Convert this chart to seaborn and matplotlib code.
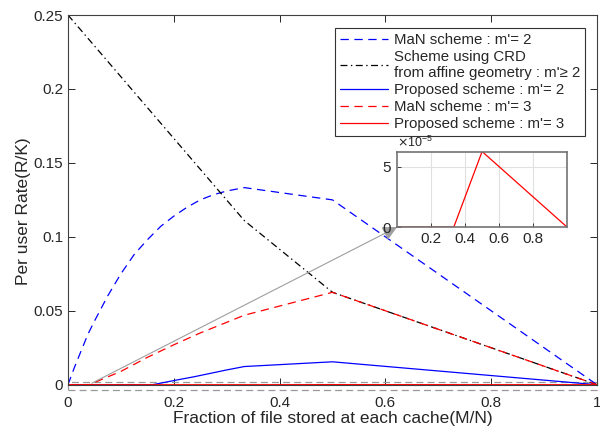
import numpy as np
import pandas as pd
import matplotlib
matplotlib.use("Agg")
import matplotlib.pyplot as plt
import seaborn as sns
from matplotlib.patches import Rectangle
from matplotlib.ticker import ScalarFormatter

# values
x_man2 = [0, 0.0125, 0.025, 0.0375, 0.05, 0.075, 0.1, 0.125, 0.15, 0.175, 0.2,
          0.225, 0.25, 0.275, 0.3, 1/3, 0.5, 1]
y_man2 = [0, 0.012, 0.023, 0.034, 0.043, 0.060, 0.075, 0.088, 0.098, 0.107, 0.114,
          0.120, 0.125, 0.1285, 0.131, 0.1333, 0.125, 0]

x_crd = [0, 1/3, 0.5, 1]
y_crd = [0.25, 0.111, 0.0625, 0]

x_prop2 = [0, 0.16, 0.2, 0.24, 0.3, 1/3, 0.5, 1]
y_prop2 = [0, 0, 0.0028, 0.0055, 0.0100, 0.0123, 0.0155, 0]

x_man3 = [0, 0.04, 0.1, 0.15, 0.2, 0.25, 1/3, 0.5, 1]
y_man3 = [0, 0, 0.009, 0.0185, 0.027, 0.035, 0.047, 0.0625, 0]

x_prop3 = [0, 1/3, 0.5, 1]
y_prop3 = [0, 0, 6.25e-5, 0]

sns.set_style("ticks")
plt.rcParams['font.family'] = ['Liberation Sans', 'DejaVu Sans']
plt.rcParams['lines.scale_dashes'] = False
plt.rcParams['axes.edgecolor'] = '0.25'
plt.rcParams['xtick.color'] = '0.15'
plt.rcParams['ytick.color'] = '0.15'

fig = plt.figure(figsize=(6, 4.3), dpi=100)
ax = fig.add_axes([0.1133, 0.1053, 0.8817, 0.8597])

def draw(x, y, color, label, dashes=None, axis=ax):
    sns.lineplot(x=x, y=y, ax=axis, color=color, label=label, lw=0.9)
    ln = axis.lines[-1]
    if dashes is not None:
        ln.set_dashes(dashes)
    return ln

draw(x_man2, y_man2, 'blue', "MaN scheme : m'= 2", (6, 4))
draw(x_crd, y_crd, 'black', "Scheme using CRD\nfrom affine geometry : m'\u2265 2", (5, 2.5, 1, 2.5))
draw(x_prop2, y_prop2, 'blue', "Proposed scheme : m'= 2")
draw(x_man3, y_man3, 'red', "MaN scheme : m'= 3", (6, 4))
draw(x_prop3, y_prop3, 'red', "Proposed scheme : m'= 3")

ax.set_xlim(0, 1)
ax.set_ylim(0, 0.25)
ax.set_xticks([0, 0.2, 0.4, 0.6, 0.8, 1])
ax.set_xticklabels(['0', '0.2', '0.4', '0.6', '0.8', '1'])
ax.set_yticks([0, 0.05, 0.1, 0.15, 0.2, 0.25])
ax.set_yticklabels(['0', '0.05', '0.1', '0.15', '0.2', '0.25'])
ax.tick_params(direction='in', top=True, right=True, labelsize=11, length=5, width=0.7)
ax.tick_params(axis='x', pad=8)
ax.set_xlabel('Fraction of file stored at each cache(M/N)', fontsize=12.5, labelpad=1)
ax.set_ylabel('Per user Rate(R/K)', fontsize=12.5)
ax.yaxis.set_label_coords(-0.07, 0.47)

leg = ax.legend(loc='upper right', bbox_to_anchor=(0.977, 0.964), fontsize=10.8,
                frameon=True, fancybox=False, framealpha=1, edgecolor='0.2',
                handlelength=3.2, handletextpad=0.4, borderpad=0.3, labelspacing=0.2,
                borderaxespad=0)
leg.get_frame().set_linewidth(0.8)

# zoom box around y=0
ax.add_patch(Rectangle((0, -0.0037), 1, 0.0056, fill=False, ec='0.6', ls=(0, (5, 3)),
                       lw=0.9, clip_on=False, zorder=1))

# inset
axins = fig.add_axes([0.662, 0.472, 0.283, 0.1756])
draw(x_prop3, y_prop3, 'red', None, axis=axins)
axins.set_xlim(0, 1)
axins.set_ylim(0, 6.25e-5)
axins.set_xticks([0.2, 0.4, 0.6, 0.8])
axins.set_yticks([0, 5e-5])
fmt = ScalarFormatter(useMathText=True)
fmt.set_powerlimits((0, 0))
axins.yaxis.set_major_formatter(fmt)
axins.grid(True, color='0.88', lw=0.8)
axins.tick_params(direction='in', labelsize=11, length=3, width=0.6)
axins.yaxis.get_offset_text().set_fontsize(9)
for s in axins.spines.values():
    s.set_color('0.45')
    s.set_linewidth(1.2)
if axins.get_legend():
    axins.get_legend().remove()

ax.annotate('', xy=(0, 0), xycoords=axins.transAxes, xytext=(0.045, 0.001), textcoords='data',
            arrowprops=dict(arrowstyle='-|>', color='0.62', lw=0.8, mutation_scale=22,
                            shrinkA=0, shrinkB=0))

fig.savefig('out.png', dpi=100)
